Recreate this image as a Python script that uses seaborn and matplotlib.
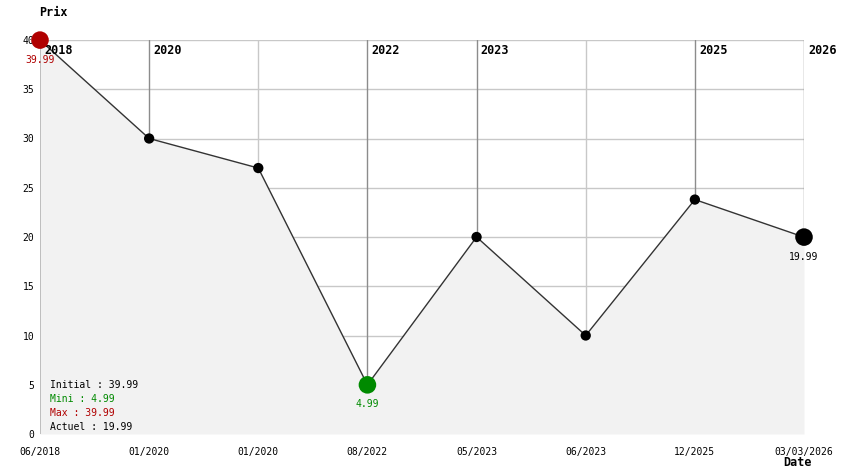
import matplotlib
matplotlib.use('Agg')
import matplotlib.pyplot as plt
import pandas as pd
import seaborn as sns

dates = ['06/2018', '01/2020', '01/2020', '08/2022', '05/2023', '06/2023',
         '12/2025', '03/03/2026']
prices = [39.99, 30.0, 27.0, 4.99, 20.0, 10.0, 23.8, 19.99]
# year marks on top of the chart: (point index, label)
year_idx = [0, 1, 3, 4, 6, 7]
year_labels = ['2018', '2020', '2022', '2023', '2025', '2026']
y_ticks = [0, 5, 10, 15, 20, 25, 30, 35, 40]

RED = '#b00000'
GREEN = '#008a00'
MONO = 'DejaVu Sans Mono'

sns.set_style('white', rc={'text.color': 'black', 'xtick.color': 'black',
                           'ytick.color': 'black'})
plt.rcParams['font.family'] = [MONO]

df = pd.DataFrame({'idx': range(len(prices)), 'price': prices, 'date': dates})
i_max = df['price'].idxmax()
i_min = df['price'].idxmin()
i_last = len(df) - 1

fig = plt.figure(figsize=(8.44, 4.74), dpi=100)
ax = fig.add_axes([40 / 844, 40 / 474, 764 / 844, 394 / 474])

# grid
for y in y_ticks[1:]:
    ax.axhline(y, color='#c8c8c8', lw=1, zorder=0)
for i in df['idx']:
    col = '#8c8c8c' if i in year_idx else '#c8c8c8'
    ax.axvline(i, color=col, lw=1, zorder=0)

ax.fill_between(df['idx'], df['price'], 0, color='#f2f2f2', lw=0, zorder=1)

sns.lineplot(data=df, x='idx', y='price', color='#333333', lw=1, ax=ax, zorder=2)
sns.scatterplot(data=df, x='idx', y='price', color='black', s=55,
                edgecolor='none', ax=ax, zorder=3)

# year labels
for i, lab in zip(year_idx, year_labels):
    ax.annotate(lab, (i, 40), xytext=(3, -3), textcoords='offset points',
                ha='left', va='top', fontsize=8.5, fontweight='bold',
                color='black', zorder=2)

# big markers
big = [(i_max, RED), (i_min, GREEN), (i_last, 'black')]
for i, col in big:
    ax.scatter(df['idx'][i], df['price'][i], s=160, color=col,
               edgecolor='none', zorder=4, clip_on=False)
    ax.annotate(f'{df["price"][i]:.2f}', (df['idx'][i], df['price'][i]),
                xytext=(0, -10.5), textcoords='offset points', ha='center',
                va='top', fontsize=7, color=col, zorder=5)

# summary block
summary = [
    (f'Initial : {prices[0]:.2f}', 'black'),
    (f'Mini : {prices[i_min]:.2f}', GREEN),
    (f'Max : {prices[i_max]:.2f}', RED),
    (f'Actuel : {prices[-1]:.2f}', 'black'),
]
for k, (txt, col) in enumerate(summary):
    ax.text(10 / 764, (434 - 385 - 14 * k) / 394, txt, transform=ax.transAxes,
            ha='left', va='center', fontsize=7, color=col, zorder=5)

ax.set_xlim(0, len(prices) - 1)
ax.set_ylim(0, 40)
ax.set_xticks(df['idx'])
ax.set_xticklabels(dates)
ax.set_yticks(y_ticks)
ax.tick_params(axis='both', labelsize=7, length=0, labelcolor='black')
ax.tick_params(axis='x', pad=9)
ax.tick_params(axis='y', pad=4)
ax.set_xlabel('')
ax.set_ylabel('')
sns.despine(ax=ax, left=True, bottom=True)

fig.text(39 / 844, 1 - 12 / 474, 'Prix', ha='left', va='center',
         fontsize=8.5, fontweight='bold', color='black')
fig.text(783 / 844, 1 - 463 / 474, 'Date', ha='left', va='center',
         fontsize=8.5, fontweight='bold', color='black')

fig.savefig('out.png', dpi=100)
